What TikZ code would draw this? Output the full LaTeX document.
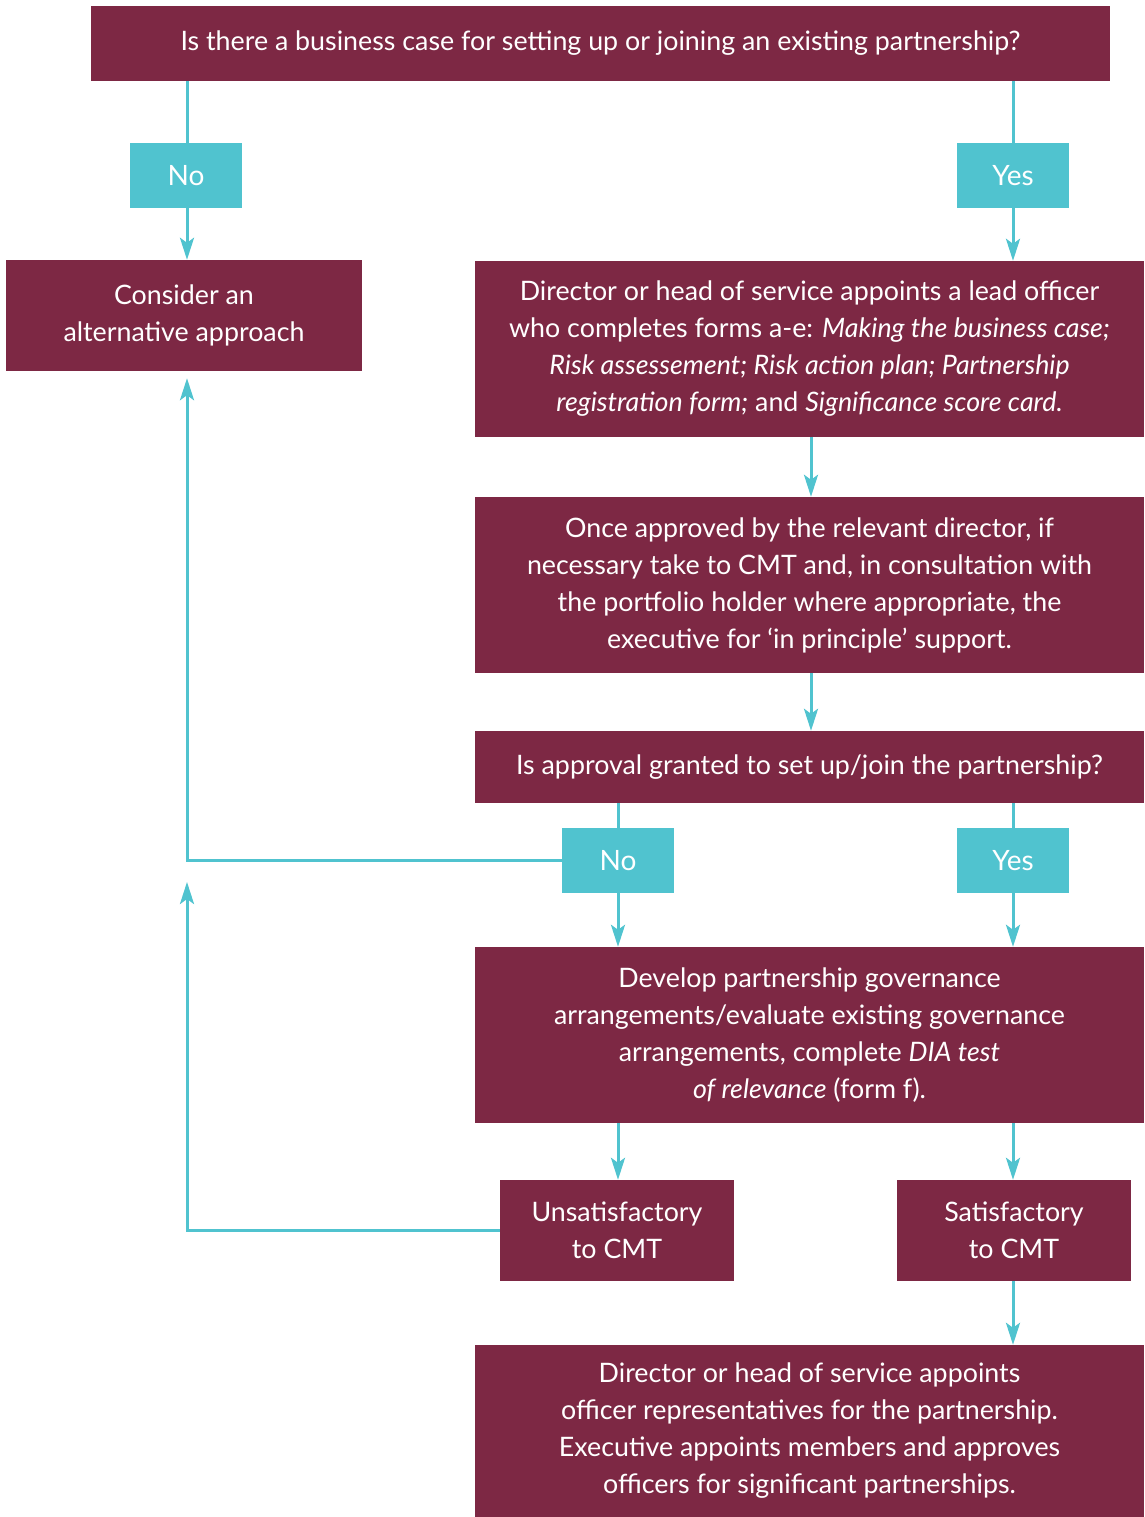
\documentclass[tikz,border=0pt]{standalone}
\usepackage{fontspec}
\setmainfont{Lato}
\usetikzlibrary{arrows.meta}
\definecolor{maroon}{HTML}{7D2844}
\definecolor{teal}{HTML}{50C3CF}
\tikzset{
  box/.style={fill=maroon, text=white, inner sep=0pt, align=center,
    font=\fontsize{26.8}{37}\selectfont},
  tag/.style={fill=teal, text=white, inner sep=0pt, align=center,
    minimum width=112pt, minimum height=65pt, font=\fontsize{28}{37}\selectfont},
  link/.style={draw=teal, line width=3pt},
  arr/.style={link, -{Stealth[length=22pt, width=14pt, inset=5pt]}},
}
\begin{document}
\begin{tikzpicture}[x=1pt, y=-1pt]
\useasboundingbox (0,0) rectangle (1144,1517);

% boxes
\node[box, minimum width=1019pt, minimum height=75pt] (q1) at (600.5,43.5)
  {Is there a business case for setting up or joining an existing partnership?};
\node[tag] (no1) at (186,175.5) {No};
\node[tag] (yes1) at (1013,175.5) {Yes};
\node[box, minimum width=356pt, minimum height=111pt] (alt) at (184,315.5)
  {Consider an\\alternative approach};
\node[box, minimum width=669pt, minimum height=176pt] (lead) at (809.5,349)
  {Director or head of service appoints a lead officer\\
   who completes forms a-e: \textit{Making the business case;}\\
   \textit{Risk assessement; Risk action plan; Partnership}\\
   \textit{registration form;} and \textit{Significance score card.}};
\node[box, minimum width=669pt, minimum height=176pt] (appr) at (809.5,585)
  {Once approved by the relevant director, if\\
   necessary take to CMT and, in consultation with\\
   the portfolio holder where appropriate, the\\
   executive for ‘in principle’ support.};
\node[box, minimum width=669pt, minimum height=72pt] (q2) at (809.5,767)
  {Is approval granted to set up/join the partnership?};
\node[tag] (no2) at (618,860.5) {No};
\node[tag] (yes2) at (1013,860.5) {Yes};
\node[box, minimum width=669pt, minimum height=176pt] (gov) at (809.5,1035)
  {Develop partnership governance\\
   arrangements/evaluate existing governance\\
   arrangements, complete \textit{DIA test}\\
   \textit{of relevance} (form f).};
\node[box, minimum width=234pt, minimum height=101pt] (unsat) at (617,1230.5)
  {Unsatisfactory\\to CMT};
\node[box, minimum width=234pt, minimum height=101pt] (sat) at (1014,1230.5)
  {Satisfactory\\to CMT};
\node[box, minimum width=669pt, minimum height=172pt] (reps) at (809.5,1431)
  {Director or head of service appoints\\
   officer representatives for the partnership.\\
   Executive appoints members and approves\\
   officers for significant partnerships.};

\coordinate (ret) at (187,882);

% connectors
\draw[link] (q1.south -| 187,0) -- (no1.north -| 187,0);
\draw[arr] (no1.south -| 187,0) -- (alt.north -| 187,0);
\draw[link] (q1.south -| yes1.north) -- (yes1.north);
\draw[arr] (yes1.south) -- (lead.north -| yes1.south);
\draw[arr] (lead.south -| 811,0) -- (appr.north -| 811,0);
\draw[arr] (appr.south -| 811,0) -- (q2.north -| 811,0);
\draw[link] (q2.south -| no2.north) -- (no2.north);
\draw[link] (q2.south -| yes2.north) -- (yes2.north);
\draw[arr] (no2.south) -- (gov.north -| no2.south);
\draw[arr] (yes2.south) -- (gov.north -| yes2.south);
\draw[arr, shorten >=7pt] (no2.west) -| (alt.south -| ret);
\draw[arr] (gov.south -| 618,0) -- (unsat.north -| 618,0);
\draw[arr] (gov.south -| 1013,0) -- (sat.north -| 1013,0);
\draw[arr] (unsat.west) -| (ret);
\draw[arr] (sat.south -| 1013,0) -- (reps.north -| 1013,0);
\end{tikzpicture}
\end{document}
